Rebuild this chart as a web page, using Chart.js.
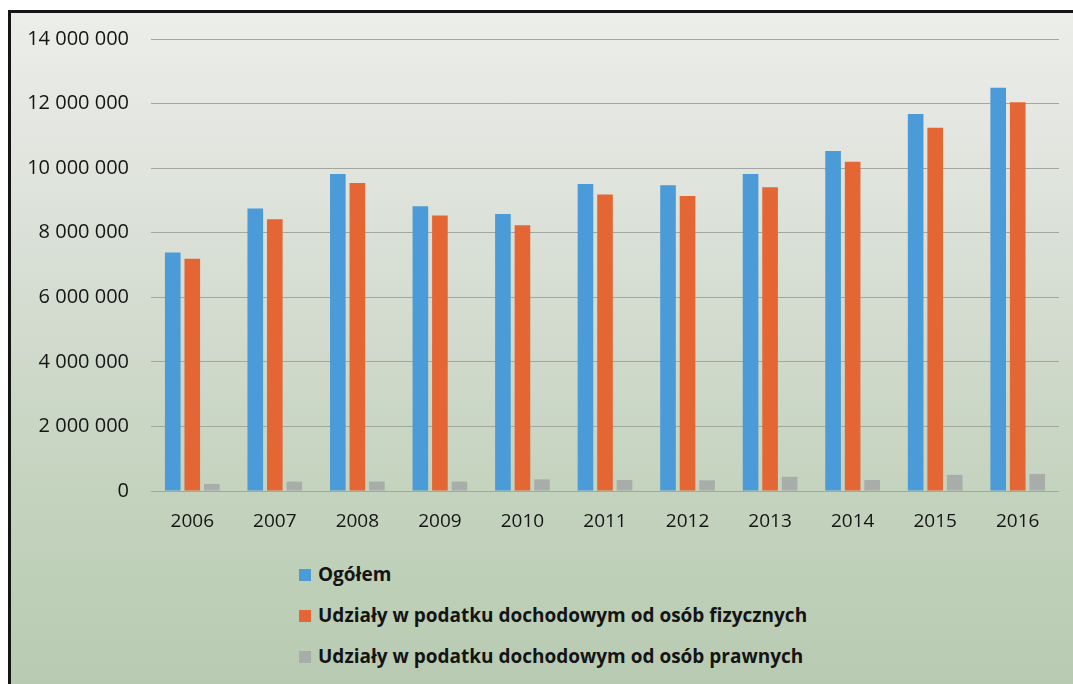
<!DOCTYPE html>
<html>
<head>
<meta charset="utf-8">
<script src="https://cdn.jsdelivr.net/npm/chart.js@4/dist/chart.umd.min.js"></script>
<style>
  html, body { margin: 0; padding: 0; background: #ffffff; }
  body { width: 1073px; height: 684px; position: relative; overflow: hidden; }
  #frame {
    position: absolute; left: 8px; top: 10px; width: 1100px; height: 700px;
    border-left: 3px solid #151515; border-top: 3px solid #151515;
    background: linear-gradient(to bottom, #eceee9 0%, #e3e6e0 18%, #d4dcd0 42%, #c4d3be 68%, #b6cab0 100%);
  }
  #wrap { position: absolute; left: 0; top: 0; width: 1073px; height: 545px; }
  #legend {
    position: absolute; left: 299px; top: 553px;
    font-family: "Open Sans", sans-serif; font-weight: bold; font-size: 19px; color: #141414;
  }
  .item { height: 41px; display: flex; align-items: center; }
  .box { width: 12px; height: 12px; margin-right: 7px; margin-top: 3px; }
</style>
</head>
<body>
<div id="frame"></div>
<div id="wrap"><canvas id="c" width="1073" height="545"></canvas></div>
<div id="legend"></div>
<script>
const years = ['2006','2007','2008','2009','2010','2011','2012','2013','2014','2015','2016'];
const seriesNames = [
  'Ogółem',
  'Udziały w podatku dochodowym od osób fizycznych',
  'Udziały w podatku dochodowym od osób prawnych'
];
const ogolem    = [7390000, 8750000, 9820000, 8820000, 8580000, 9510000, 9470000, 9820000, 10530000, 11680000, 12490000];
const fizyczne  = [7190000, 8420000, 9540000, 8530000, 8230000, 9180000, 9140000, 9410000, 10200000, 11250000, 12040000];
const prawne    = [220000, 290000, 290000, 290000, 360000, 340000, 330000, 440000, 340000, 500000, 530000];
const yTicks    = [0, 2000000, 4000000, 6000000, 8000000, 10000000, 12000000, 14000000];
const colors    = ['#4a9bd7', '#e46634', '#a9adaa'];

const fmt = v => String(v).replace(/\B(?=(\d{3})+(?!\d))/g, ' ');

const datasets = [ogolem, fizyczne, prawne].map((d, i) => ({
  label: seriesNames[i],
  data: d,
  backgroundColor: colors[i],
  borderWidth: 0,
  categoryPercentage: 0.71,
  barPercentage: 0.8
}));

new Chart(document.getElementById('c'), {
  type: 'bar',
  data: { labels: years, datasets },
  options: {
    responsive: false,
    animation: false,
    layout: { padding: { top: 39, right: 14, left: 0, bottom: 0 } },
    plugins: { legend: { display: false }, tooltip: { enabled: false }, title: { display: false } },
    scales: {
      x: {
        grid: { display: false, drawTicks: false },
        border: { display: false },
        ticks: { color: '#151515', font: { family: 'Open Sans', size: 19 }, padding: 19 },
        afterFit: s => { s.height = 54; }
      },
      y: {
        min: 0, max: 14000000,
        afterBuildTicks: s => { s.ticks = yTicks.map(v => ({ value: v })); },
        grid: { color: '#a3a7a2', lineWidth: 1, drawTicks: false },
        border: { display: false },
        ticks: { color: '#151515', font: { family: 'Open Sans', size: 20 }, padding: 22, callback: v => fmt(v) },
        afterFit: s => { s.width = 151; }
      }
    }
  }
});

const leg = document.getElementById('legend');
seriesNames.forEach((n, i) => {
  const it = document.createElement('div');
  it.className = 'item';
  const b = document.createElement('span');
  b.className = 'box';
  b.style.background = colors[i];
  const t = document.createElement('span');
  t.textContent = n;
  it.appendChild(b); it.appendChild(t);
  leg.appendChild(it);
});
</script>
</body>
</html>
